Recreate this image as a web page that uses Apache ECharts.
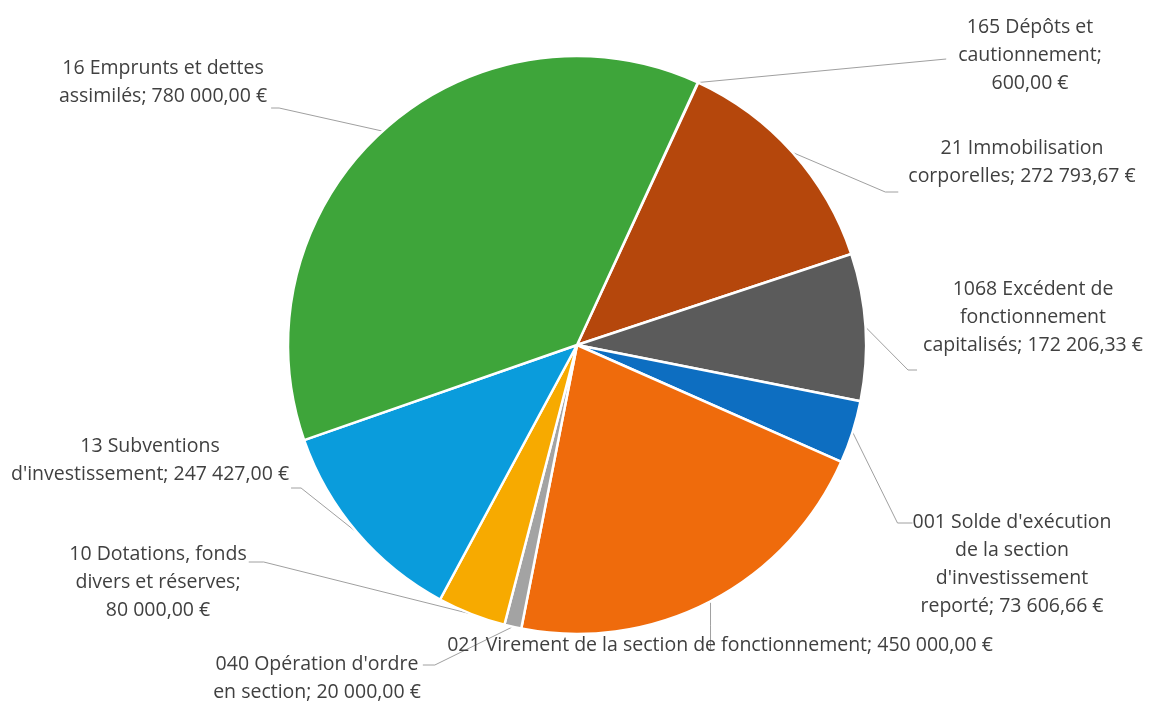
<!DOCTYPE html>
<html>
<head>
<meta charset="utf-8">
<script src="https://cdn.jsdelivr.net/npm/echarts@6/dist/echarts.min.js"></script>
<style>
  html, body { margin: 0; padding: 0; background: #ffffff; }
  #chart { width: 1150px; height: 702px; }
</style>
</head>
<body>
<div id="chart"></div>
<script>
// ---- Data ----
const categories = [
  "165 Dépôts et\ncautionnement",
  "21 Immobilisation\ncorporelles",
  "1068 Excédent de\nfonctionnement\ncapitalisés",
  "001 Solde d'exécution\nde la section\nd'investissement\nreporté",
  "021 Virement de la section de fonctionnement",
  "040 Opération d'ordre\nen section",
  "10 Dotations, fonds\ndivers et réserves",
  "13 Subventions\nd'investissement",
  "16 Emprunts et dettes\nassimilés"
];
const values = [600.00, 272793.67, 172206.33, 73606.66, 450000.00, 20000.00, 80000.00, 247427.00, 780000.00];
const valueSeparators = [";\n", "; ", "; ", "; ", "; ", "; ", ";\n", "; ", "; "];

// ---- Styles / layout (not data) ----
const sliceColors = ['#3EA53A', '#B5470C', '#5B5B5B', '#0D6EC1', '#EF6B0C', '#A3A3A3', '#F7AA00', '#0A9CDC', '#3EA53A'];
const pieCenter = [577, 345];
const pieRadius = 289;
// label placement: centre of text block, side the leader attaches to, vertical offset of attach point, elbow length, gap
const labelPlacement = [
  { x: 1030, y: 55,  side: 'l', dy: 4,   elbow: 0,  gap: 12 },
  { x: 1022, y: 162, side: 'l', dy: 30,  elbow: 13, gap: 10 },
  { x: 1033, y: 317, side: 'l', dy: 53,  elbow: 9,  gap: 6 },
  { x: 1012, y: 564, side: 'l', dy: -41, elbow: 15, gap: 0 },
  { x: 720,  y: 645, side: 'v', dy: 4,   elbow: 0,  gap: 0 },
  { x: 317,  y: 678, side: 'r', dy: -13, elbow: 12, gap: 2 },
  { x: 158,  y: 582, side: 'r', dy: -20, elbow: 15, gap: 2 },
  { x: 150,  y: 460, side: 'r', dy: 28,  elbow: 10, gap: 2 },
  { x: 163,  y: 82,  side: 'r', dy: 26,  elbow: 8,  gap: 4 }
];

function fmtEuro(v) {
  const parts = v.toFixed(2).split('.');
  const intPart = parts[0].replace(/\B(?=(\d{3})+(?!\d))/g, ' ');
  return intPart + ',' + parts[1] + ' €';
}

const pieData = categories.map((name, i) => ({
  name: name,
  value: values[i],
  itemStyle: { color: sliceColors[i] }
}));

// start of the first slice, degrees clockwise from 12 o'clock
const startFromTop = 24.7;

const chart = echarts.init(document.getElementById('chart'), null, { renderer: 'canvas' });
const total = values.reduce((a, b) => a + b, 0);

chart.setOption({
  backgroundColor: '#ffffff',
  animation: false,
  series: [{
    type: 'pie',
    center: pieCenter,
    radius: pieRadius,
    startAngle: 90 - startFromTop,
    clockwise: true,
    minAngle: 0,
    avoidLabelOverlap: false,
    data: pieData,
    itemStyle: { borderColor: '#ffffff', borderWidth: 2.5 },
    label: {
      show: true,
      position: 'outside',
      formatter: function (p) {
        return p.name + valueSeparators[p.dataIndex] + fmtEuro(p.value);
      },
      color: '#404040',
      fontFamily: "'Open Sans', sans-serif",
      fontSize: 19.5,
      lineHeight: 28,
      align: 'center'
    },
    labelLine: {
      show: true,
      length: 10,
      length2: 10,
      lineStyle: { color: '#A0A0A0', width: 1 }
    },
    labelLayout: function (params) {
      const i = params.dataIndex;
      const lp = labelPlacement[i];
      const w = params.labelRect.width;
      // anchor on the outer arc at the slice's middle angle
      let edge;
      if (params.labelLinePoints && params.labelLinePoints.length) {
        edge = params.labelLinePoints[0];
      } else {
        let cum = 0;
        for (let k = 0; k < i; k++) cum += values[k];
        const a = (startFromTop + (cum + values[i] / 2) / total * 360) * Math.PI / 180;
        edge = [pieCenter[0] + pieRadius * Math.sin(a), pieCenter[1] - pieRadius * Math.cos(a)];
      }
      let pts;
      if (lp.side === 'v') {
        pts = [edge, [edge[0], (edge[1] + lp.y + lp.dy) / 2], [edge[0], lp.y + lp.dy]];
      } else {
        const ay = lp.y + lp.dy;
        const ax = lp.side === 'l' ? lp.x - w / 2 - lp.gap : lp.x + w / 2 + lp.gap;
        const ex = lp.side === 'l' ? ax - lp.elbow : ax + lp.elbow;
        pts = [edge, [ex, ay], [ax, ay]];
      }
      return {
        x: lp.x,
        y: lp.y,
        align: 'center',
        verticalAlign: 'middle',
        labelLinePoints: pts
      };
    }
  }]
});
</script>
</body>
</html>
